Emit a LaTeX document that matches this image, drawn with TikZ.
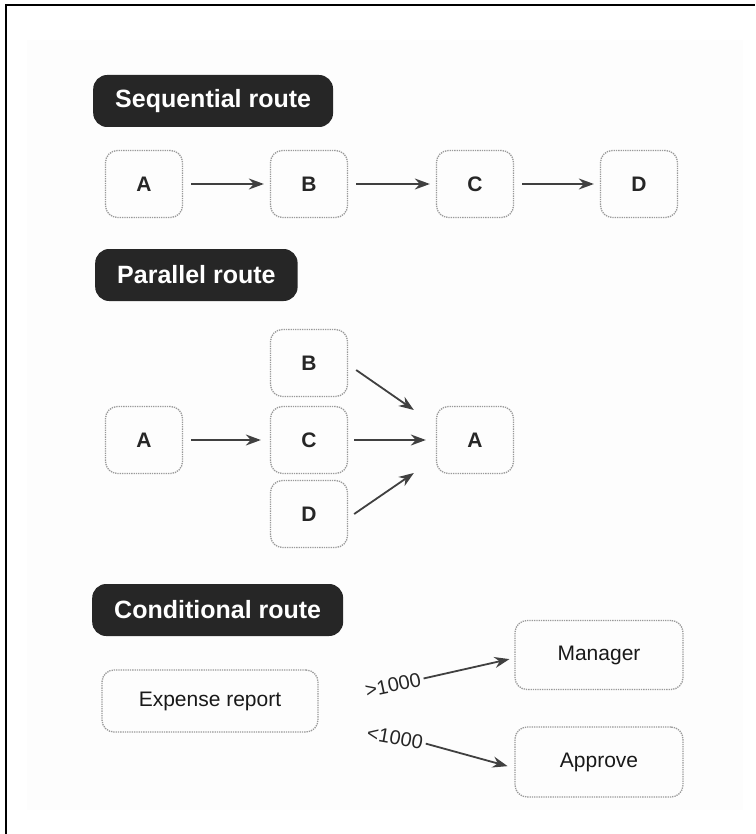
\documentclass[tikz,border=0pt]{standalone}
\usepackage{fontspec}
\setmainfont{Liberation Sans}
\usetikzlibrary{arrows.meta}
\begin{document}
\begin{tikzpicture}[x=1pt,y=-1pt,
  header/.style={fill=black!85, rounded corners=14pt, text=white,
    font=\fontsize{25}{30}\selectfont\bfseries, minimum height=52pt,
    inner xsep=22pt, anchor=west},
  stepbox/.style={draw=black!40, densely dotted, line width=1.3pt,
    rounded corners=12pt, minimum width=77pt, minimum height=67pt,
    font=\fontsize{21}{25}\selectfont\bfseries, text=black!85},
  widebox/.style={stepbox, font=\fontsize{21}{25}\selectfont, text=black!90},
  cond/.style={font=\fontsize{20}{24}\selectfont, text=black!85, inner sep=1pt},
  flow/.style={draw=black!75, line width=1.8pt, -{Stealth[length=15pt,width=11pt]}},
]
% page and frame
\useasboundingbox (0,0) rectangle (755,834);
\fill[black!0.8] (27,40) rectangle (743,810);
\draw[line width=2pt] (5.5,834) -- (5.5,5.5) -- (755,5.5);

% ---- sequential route ----
\node[header] (hseq) at (93,101) {Sequential route};
\node[stepbox] (sA) at (144,184) {A};
\node[stepbox] (sB) at (309,184) {B};
\node[stepbox] (sC) at (475,184) {C};
\node[stepbox] (sD) at (639,184) {D};
\foreach \a/\b in {sA/sB, sB/sC, sC/sD}
  \draw[flow, shorten <=8pt, shorten >=6pt] (\a.east) -- (\b.west);

% ---- parallel route ----
\node[header] (hpar) at (95,275) {Parallel route};
\node[stepbox] (pA1) at (144,440) {A};
\node[stepbox] (pB) at (309,363) {B};
\node[stepbox] (pC) at (309,440) {C};
\node[stepbox] (pD) at (309,514) {D};
\node[stepbox] (pA2) at (475,440) {A};
\draw[flow, shorten <=8pt, shorten >=9pt] (pA1.east) -- (pC.west);
\draw[flow, shorten <=6pt, shorten >=10pt] (pC.east) -- (pA2.west);
\draw[flow] ([xshift=8pt,yshift=-7pt]pB.east) -- ([xshift=-22pt,yshift=30pt]pA2.west);
\draw[flow] ([xshift=6pt]pD.east) -- ([xshift=-22pt,yshift=-33pt]pA2.west);

% ---- conditional route ----
\node[header] (hcon) at (92,610) {Conditional route};
\node[widebox, minimum width=216pt, minimum height=62pt] (exp) at (210,701) {Expense report};
\node[widebox, minimum width=168pt, minimum height=69pt] (mgr) at (599,655) {Manager};
\node[widebox, minimum width=168pt, minimum height=70pt] (apr) at (599,762) {Approve};
\node[cond, rotate=12] (gt) at (393,685) {>1000};
\node[cond, rotate=-10] (lt) at (395,738) {<1000};
\draw[flow, shorten <=2pt, shorten >=5pt] (gt.east) -- ([yshift=-3pt]mgr.west);
\draw[flow, shorten <=2pt, shorten >=7pt] (lt.east) -- ([yshift=-6pt]apr.west);
\end{tikzpicture}
\end{document}
